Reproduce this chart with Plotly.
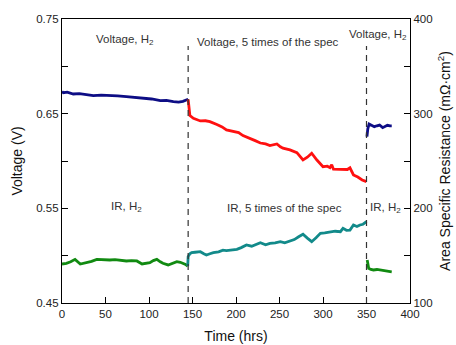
import plotly.graph_objects as go

# Voltage, H2 (first period)
v1_t = [0, 1.5, 6, 13, 20, 28, 36, 45, 55, 64, 74, 84, 93, 103, 113, 120, 128, 134, 139, 143, 145]
v1_v = [0.6735, 0.6722, 0.6728, 0.6708, 0.6712, 0.6697, 0.6690, 0.6696, 0.6694, 0.6688, 0.6680, 0.6672, 0.6663, 0.6655, 0.6637, 0.6640, 0.6627, 0.6622, 0.6630, 0.6640, 0.6652]
# Voltage, 5 times of the spec
v2_t = [145, 146, 147, 151, 155, 159, 165, 170, 178, 184, 189, 197, 203, 208, 216, 222, 228, 234, 239, 243, 247, 251, 254, 262, 268, 270, 277, 282, 287, 293, 300, 305, 308, 310, 312, 318, 323, 328, 331, 335, 340, 345, 350]
v2_v = [0.6652, 0.6560, 0.6480, 0.6451, 0.6440, 0.6423, 0.6425, 0.6416, 0.6385, 0.6360, 0.6328, 0.6310, 0.6300, 0.6268, 0.6233, 0.6215, 0.6190, 0.6180, 0.6162, 0.6170, 0.6180, 0.6150, 0.6135, 0.6117, 0.6100, 0.6088, 0.6011, 0.6040, 0.6082, 0.6010, 0.5940, 0.5945, 0.5930, 0.5960, 0.5913, 0.5910, 0.5905, 0.5910, 0.5928, 0.5853, 0.5830, 0.5800, 0.5782]
# Voltage, H2 (after)
v3_t = [350.5, 351.5, 353, 356, 359, 362, 365, 368.6, 371, 374, 377, 379]
v3_v = [0.6257, 0.6340, 0.6391, 0.6380, 0.6363, 0.6372, 0.6380, 0.6352, 0.6362, 0.6377, 0.6370, 0.6370]

# IR, H2 (first period)
r1_t = [0, 5, 10, 15, 21, 28, 34, 40, 48, 55, 61, 67, 74, 80, 86, 92, 97, 101, 105, 109, 113, 116, 122, 127, 132, 136, 139, 142, 144.5]
r1_r = [141.2, 141.9, 143.5, 146.1, 141.2, 142.6, 144.0, 146.1, 145.4, 145.4, 145.8, 145.4, 144.4, 144.8, 144.4, 141.2, 141.8, 142.6, 144.8, 146.1, 143.5, 141.9, 140.2, 142.0, 143.7, 143.0, 141.9, 140.8, 139.0]
# IR, 5 times of the spec
r2_t = [144.5, 145, 147, 149, 153, 159, 163, 166, 170, 174, 180, 185, 189, 195, 201, 206, 212, 218, 223, 228, 234, 239, 245, 251, 256, 262, 267, 272, 277, 282, 287, 292, 297, 302, 308, 314, 320, 323, 327, 331, 335, 339, 342.5, 346, 350]
r2_r = [139.0, 149.0, 152.0, 153.2, 153.6, 154.2, 152.0, 150.7, 152.0, 153.2, 154.0, 155.8, 155.3, 156.2, 156.7, 158.5, 161.3, 160.0, 162.0, 163.7, 161.5, 163.0, 163.5, 164.8, 163.6, 165.8, 167.0, 170.0, 172.6, 168.5, 164.8, 169.0, 173.6, 174.0, 175.3, 175.8, 175.3, 178.9, 176.8, 177.0, 182.4, 180.8, 182.4, 183.2, 185.9]
# IR, H2 (after)
r3_t = [350.8, 351.5, 352.5, 355, 358, 362, 365.5, 369, 373, 376, 379]
r3_r = [145.4, 141.0, 136.6, 135.5, 134.9, 135.4, 134.9, 134.6, 133.8, 133.4, 133.0]

x_ticks = [0, 50, 100, 150, 200, 250, 300, 350, 400]
y_ticks = [0.45, 0.55, 0.65, 0.75]
y2_ticks = [100, 200, 300, 400]
switch_times = [145, 350]

navy = "#0d0d85"
red = "#ff1010"
green = "#118a11"
teal = "#128a8a"
lw = 2.8

fig = go.Figure()
for t, v, c in [(v1_t, v1_v, navy), (v2_t, v2_v, red), (v3_t, v3_v, navy)]:
    fig.add_trace(go.Scatter(x=t, y=v, mode="lines", line=dict(color=c, width=lw), showlegend=False))
for t, r, c in [(r1_t, r1_r, green), (r2_t, r2_r, teal), (r3_t, r3_r, green)]:
    fig.add_trace(go.Scatter(x=t, y=r, mode="lines", line=dict(color=c, width=lw), yaxis="y2", showlegend=False))

for s in switch_times:
    fig.add_shape(type="line", x0=s, x1=s, y0=0.45, y1=0.7215, xref="x", yref="y",
                  line=dict(color="#333333", width=1.2, dash="6px,5px"))

font = "Liberation Sans, Arial, sans-serif"
ann = [
    (0.181, 0.926, "Voltage, H<sub>2</sub>"),
    (0.593, 0.919, "Voltage, 5 times of the spec"),
    (0.908, 0.944, "Voltage, H<sub>2</sub>"),
    (0.184, 0.339, "IR, H<sub>2</sub>"),
    (0.638, 0.335, "IR, 5 times of the spec"),
    (0.931, 0.335, "IR, H<sub>2</sub>"),
]
for x, y, txt in ann:
    fig.add_annotation(x=x, y=y, xref="paper", yref="paper", text=txt, showarrow=False,
                       font=dict(size=11.5, color="#333333", family=font), xanchor="center", yanchor="middle")

axis_common = dict(showline=True, linecolor="black", linewidth=1.2, ticks="inside",
                   ticklen=6, tickcolor="black", showgrid=False, zeroline=False, automargin=False,
                   tickfont=dict(size=11.5, color="#222222", family=font))

fig.update_layout(
    width=456, height=345,
    margin=dict(l=62, r=46, t=19, b=42, autoexpand=False),
    paper_bgcolor="white", plot_bgcolor="white",
    font=dict(family=font),
    xaxis=dict(range=[0, 400], tickvals=x_ticks, mirror=True,
               title=dict(text="Time (hrs)", font=dict(size=14, color="#111111", family=font), standoff=12),
               **axis_common),
    yaxis=dict(range=[0.45, 0.75], tickvals=y_ticks, ticktext=[f"{v:.2f}" for v in y_ticks],
               minor=dict(dtick=0.05, ticks="inside", ticklen=6, tickcolor="black", tick0=0.45),
               title=dict(text="Voltage (V)", font=dict(size=14, color="#111111", family=font), standoff=10),
               **axis_common),
    yaxis2=dict(range=[100, 400], tickvals=y2_ticks, overlaying="y", side="right",
                minor=dict(dtick=50, ticks="inside", ticklen=6, tickcolor="black", tick0=100),
                title=dict(text="Area Specific Resistance (mΩ·cm<sup>2</sup>)",
                           font=dict(size=14, color="#111111", family=font), standoff=8),
                **axis_common),
)

fig.write_html("out.html")
